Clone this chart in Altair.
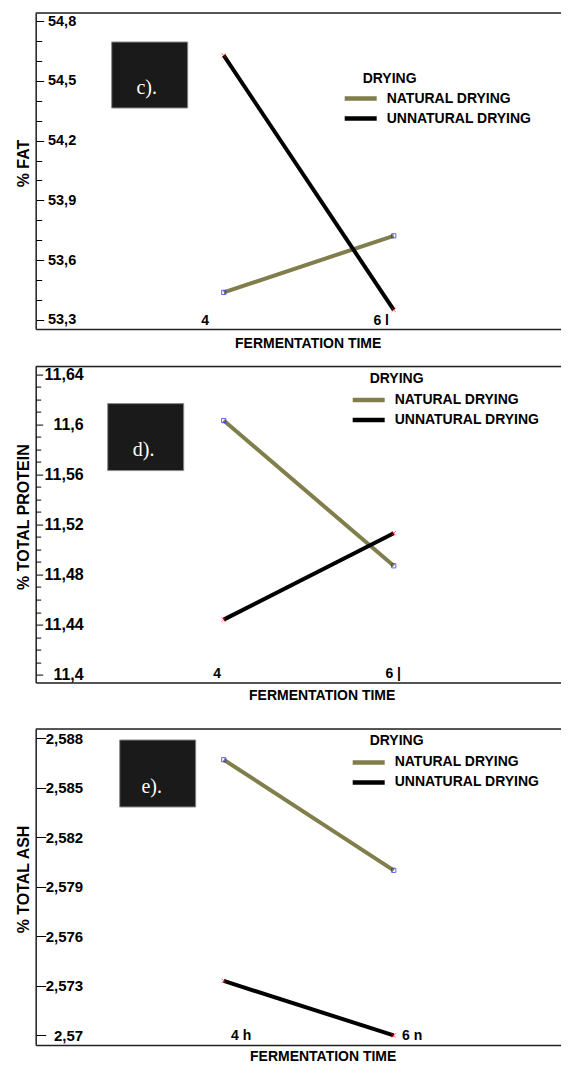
import altair as alt
import pandas as pd

# ---------------- data ----------------
groups = ["NATURAL DRYING", "UNNATURAL DRYING"]
times = [4, 6]

fat_natural = [53.438, 53.722]
fat_unnatural = [54.628, 53.350]
protein_natural = [11.603, 11.487]
protein_unnatural = [11.444, 11.513]
ash_natural = [2.5867, 2.5800]
ash_unnatural = [2.5733, 2.5700]

fat_ticks = [53.3, 53.6, 53.9, 54.2, 54.5, 54.8]
fat_minor = [53.4, 53.5, 53.7, 53.8, 54.0, 54.1, 54.3, 54.4, 54.6, 54.7]
protein_ticks = [11.4, 11.44, 11.48, 11.52, 11.56, 11.6, 11.64]
protein_minor = [11.41, 11.42, 11.43, 11.45, 11.46, 11.47, 11.49, 11.50, 11.51,
                 11.53, 11.54, 11.55, 11.57, 11.58, 11.59, 11.61, 11.62, 11.63]
ash_ticks = [2.57, 2.573, 2.576, 2.579, 2.582, 2.585, 2.588]

x_labels_c = ["4", "6 l"]
x_labels_d = ["4", "6 |"]
x_labels_e = ["4 h", "6 n"]
panel_tags = ["c).", "d).", "e)."]
y_titles = ["% FAT", "% TOTAL PROTEIN", "% TOTAL ASH"]
x_title = "FERMENTATION TIME"
legend_title = "DRYING"

# ---------------- style ----------------
W, H = 536, 316
XDOM = [1.788, 1.788 + W / 85.0]
OLIVE = "#807E4A"
FRAME = "#222222"
FONT = "Liberation Sans"
XPATH = "M-1,-1L1,1M-1,1L1,-1"


def panel(nat, unnat, ydom, ticks, minor, decimals, major_size, minor_size,
          label_pad, label_size, ytitle, tag, xlab, xoff, xtitle_x, xtitle_y,
          legend_xy, title_xy, box, tag_xy):
    df = pd.DataFrame({
        "time": times + times,
        "value": nat + unnat,
        "drying": [groups[0]] * 2 + [groups[1]] * 2,
    })
    df["marker"] = df["drying"].map({groups[0]: "n", groups[1]: "u"})
    base = alt.Chart(df)
    xenc = alt.X(
        "time:Q",
        scale=alt.Scale(domain=XDOM, nice=False, zero=False),
        axis=alt.Axis(
            values=times,
            labelExpr=f"datum.value == 4 ? '{xlab[0]}' : '{xlab[1]}'",
            ticks=False, domain=True, domainColor=FRAME, domainWidth=1.5,
            grid=False,
            labelPadding=-9, labelBaseline="middle", labelAlign="center",
            labelOffset={"condition": {"test": "datum.value == 4", "value": xoff[0]},
                         "value": xoff[1]},
            labelFont=FONT, labelFontSize=14, labelFontWeight="bold",
            labelColor="black", labelFlush=False, labelOverlap=False,
            title=x_title, titleX=xtitle_x, titleY=xtitle_y,
            titleBaseline="middle",
            titleAlign="center", titleFont=FONT, titleFontSize=14,
            titleFontWeight="bold", titleColor="black",
        ),
    )
    yscale = alt.Scale(domain=ydom, nice=False, zero=False)
    fmt = f"replace(format(datum.value, '.{decimals}~f'), '.', ',')"

    one = pd.DataFrame({"tag": [tag], "legend": [legend_title]})
    top_rule = alt.Chart(one).mark_rule(color=FRAME, strokeWidth=1.5).encode(
        x=alt.value(0), x2=alt.value(W), y=alt.value(0))
    rect = alt.Chart(one).mark_rect(
        fill="#1a1a1a", stroke="#8a8a8a", strokeWidth=1
    ).encode(x=alt.value(box[0]), x2=alt.value(box[1]),
             y=alt.value(box[2]), y2=alt.value(box[3]))
    txt = alt.Chart(one).mark_text(
        font="Liberation Serif", fontSize=20, color="white",
        baseline="middle", align="center"
    ).encode(x=alt.value(tag_xy[0]), y=alt.value(tag_xy[1]), text="tag:N")
    ltitle = alt.Chart(one).mark_text(
        font=FONT, fontSize=14, fontWeight="bold", color="black",
        baseline="middle", align="left"
    ).encode(x=alt.value(title_xy[0]), y=alt.value(title_xy[1]), text="legend:N")

    lines = base.mark_line(strokeWidth=4).encode(
        x=xenc,
        y=alt.Y("value:Q", scale=yscale, axis=alt.Axis(
            orient="right", offset=-W, values=ticks, labelExpr=fmt,
            tickSize=major_size, tickColor="black", tickWidth=1,
            domain=True, domainColor=FRAME, domainWidth=1.5,
            grid=False, labelAlign="right",
            labelPadding=label_pad, labelBaseline="middle",
            labelFont=FONT, labelFontSize=label_size, labelFontWeight="bold",
            labelColor="black", labelFlush=False, labelOverlap=False,
            title=ytitle, titleX=-12, titleY=150, titleAngle=270,
            titleAlign="center", titleBaseline="middle", titleFont=FONT,
            titleFontSize=16, titleFontWeight="bold", titleColor="black",
        )),
        color=alt.Color("drying:N",
                        scale=alt.Scale(domain=groups, range=[OLIVE, "black"]),
                        legend=alt.Legend(
                            title=None,
                            orient="none", legendX=legend_xy[0],
                            legendY=legend_xy[1], direction="vertical",
                            symbolType="M-2,0H2", symbolSize=256,
                            symbolStrokeWidth=4.5,
                            labelFont=FONT, labelFontSize=14,
                            labelFontWeight="bold", labelColor="black",
                            labelOffset=15.5, rowPadding=0,
                            padding=0, labelLimit=300)),
    )

    if minor:
        minor_axis = alt.Axis(orient="right", offset=-W, values=minor,
                              labels=False, tickSize=minor_size,
                              tickColor="black", domain=False, grid=False,
                              title=None)
    else:
        minor_axis = None
    points = base.mark_point(size=18, filled=False, strokeWidth=1).encode(
        x=xenc,
        y=alt.Y("value:Q", scale=yscale, axis=minor_axis),
        shape=alt.Shape("marker:N",
                        scale=alt.Scale(domain=["n", "u"], range=["square", XPATH]),
                        legend=None),
        stroke=alt.Stroke("marker:N",
                          scale=alt.Scale(domain=["n", "u"], range=["#2020ff", "#ff2020"]),
                          legend=None),
    )
    layers = [top_rule, rect, txt, ltitle, lines, points]
    return alt.layer(*layers).resolve_axis(y="independent").properties(
        width=W, height=H)


p1 = panel(fat_natural, fat_unnatural, [53.254, 54.841], fat_ticks, fat_minor,
           1, 8, 6, 32, 14.5, y_titles[0], panel_tags[0], x_labels_c,
           (-19, -13), 272, 14, (314.5, 75), (327, 66), (76, 152, 29, 95),
           (111, 75))
p2 = panel(protein_natural, protein_unnatural, [11.3937, 11.6461],
           protein_ticks, protein_minor, 2, 7, 5, 40.5, 16, y_titles[1],
           panel_tags[1], x_labels_d, (-7, -1), 286, 13, (322.5, 23), (334, 12),
           (72, 148, 37, 104), (108, 83))
p3 = panel(ash_natural, ash_unnatural, [2.56942, 2.58856], ash_ticks, [],
           3, 10, 0, 37, 15, y_titles[2], panel_tags[2], x_labels_e,
           (17, 18), 287, 12, (322.5, 23), (334, 12), (84, 160, 11, 78),
           (116, 58))

indep = dict(color="independent", stroke="independent", shape="independent")
top = alt.vconcat(p1, p2, spacing=13.6).resolve_scale(**indep).resolve_legend(color="independent")
chart = alt.vconcat(top, p3, spacing=23).resolve_scale(**indep).resolve_legend(
    color="independent"
).properties(
    padding={"left": 6.7, "top": 3, "right": -13, "bottom": 0}
).configure_view(stroke=None).configure(background="white")

chart.save("out.html", embed_options={"renderer": "svg", "actions": False})
